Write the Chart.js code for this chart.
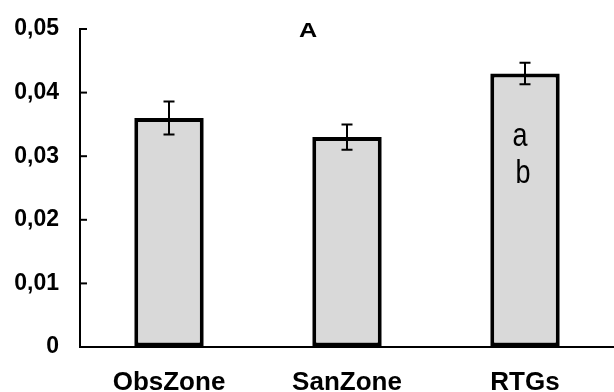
<!DOCTYPE html>
<html>
<head>
<meta charset="utf-8">
<script src="https://cdn.jsdelivr.net/npm/chart.js@4"></script>
<style>
html,body{margin:0;padding:0;background:#fff;}
#wrap{width:614px;height:392px;}
</style>
</head>
<body>
<div id="wrap"><canvas id="c" width="614" height="392"></canvas></div>
<script>
const categories = ['ObsZone', 'SanZone', 'RTGs'];
const values = [0.036, 0.033, 0.043];
const errors = [0.0026, 0.002, 0.0017];
const yTicks = [0, 0.01, 0.02, 0.03, 0.04, 0.05];
const panelTitle = 'A';
const barNotes = [[], [], ['a', 'b']];

const FONT = '"Liberation Sans", Arial, sans-serif';

const extras = {
  id: 'extras',
  afterDraw(chart) {
    const ctx = chart.ctx;
    const y = chart.scales.y, x = chart.scales.x;
    const meta = chart.getDatasetMeta(0);
    ctx.save();
    // error bars
    ctx.strokeStyle = '#000';
    ctx.lineWidth = 2;
    meta.data.forEach((bar, i) => {
      const cx = bar.x;
      const top = y.getPixelForValue(values[i] + errors[i]);
      const bot = y.getPixelForValue(values[i] - errors[i]);
      ctx.beginPath();
      ctx.moveTo(cx, top); ctx.lineTo(cx, bot);
      ctx.moveTo(cx - 5.5, top); ctx.lineTo(cx + 5.5, top);
      ctx.moveTo(cx - 5.5, bot); ctx.lineTo(cx + 5.5, bot);
      ctx.stroke();
    });
    // inner tick marks on y axis
    yTicks.forEach(v => {
      const py = y.getPixelForValue(v);
      ctx.beginPath();
      ctx.moveTo(x.left, py); ctx.lineTo(x.left + 7, py);
      ctx.stroke();
    });
    // notes inside bars
    ctx.fillStyle = '#000';
    ctx.font = '27px ' + FONT;
    ctx.textAlign = 'center';
    ctx.textBaseline = 'alphabetic';
    meta.data.forEach((bar, i) => {
      barNotes[i].forEach((t, k) => {
        ctx.save();
        ctx.translate(bar.x - 5 + k * 3, 146 + k * 37);
        ctx.scale(1, 1.2);
        ctx.fillText(t, 0, 0);
        ctx.restore();
      });
    });
    // panel title
    ctx.save();
    ctx.font = 'bold 21px ' + FONT;
    ctx.translate(308, 37);
    ctx.scale(1.2, 1);
    ctx.fillText(panelTitle, 0, 0);
    ctx.restore();
    ctx.restore();
  }
};

new Chart(document.getElementById('c'), {
  type: 'bar',
  data: {
    labels: categories,
    datasets: [{
      data: values,
      backgroundColor: '#d9d9d9',
      borderColor: '#000',
      borderWidth: 4,
      borderSkipped: false,
      barPercentage: 0.39,
      categoryPercentage: 1
    }]
  },
  options: {
    responsive: false,
    animation: false,
    devicePixelRatio: 1,
    layout: { padding: { top: 29, right: 0, bottom: 0, left: 0 } },
    plugins: { legend: { display: false }, tooltip: { enabled: false }, title: { display: false } },
    scales: {
      x: {
        afterFit(scale) { scale.height = 45; scale.paddingLeft = 0; scale.paddingRight = 0; },
        grid: { display: false },
        border: { display: true, color: '#000', width: 2 },
        ticks: { color: '#000', font: { family: FONT, size: 26, weight: 'bold' }, padding: 12 }
      },
      y: {
        min: 0, max: 0.05,
        afterFit(scale) { scale.width = 80; scale.paddingTop = 0; scale.paddingBottom = 0; },
        afterBuildTicks(scale) { scale.ticks = yTicks.map(v => ({ value: v })); },
        grid: { display: true, drawOnChartArea: false, drawTicks: false },
        border: { display: true, color: '#000', width: 2 },
        ticks: {
          color: '#000', padding: 21,
          font: { family: FONT, size: 23, weight: 'bold' },
          callback: v => v === 0 ? '0' : v.toFixed(2).replace('.', ',')
        }
      }
    }
  },
  plugins: [extras]
});
</script>
</body>
</html>
